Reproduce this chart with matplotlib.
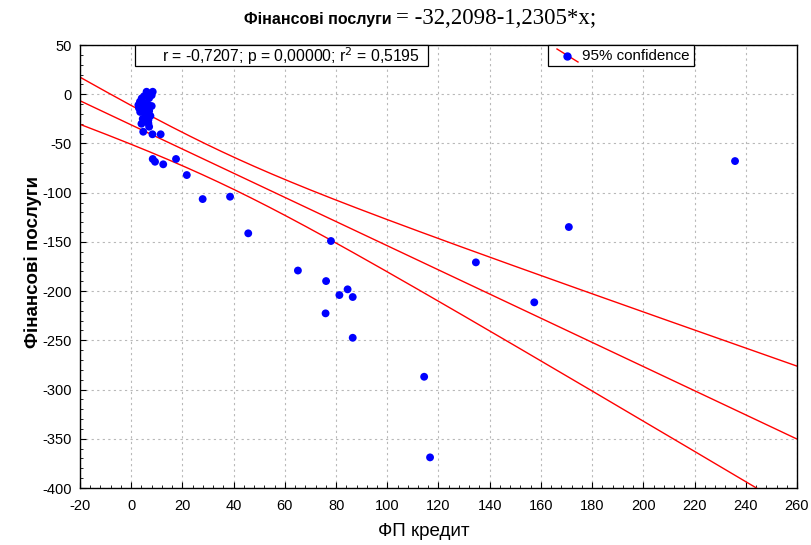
import numpy as np
import matplotlib
matplotlib.use("Agg")
import matplotlib.pyplot as plt
from matplotlib.ticker import MultipleLocator
from matplotlib.patches import Rectangle
from matplotlib.lines import Line2D

# Data (the dense cluster near the origin holds overlapping points)
fp_credit = [6.0, 8.4, 8.0, 5.0, 4.1, 7.0, 3.4, 5.4, 6.7, 2.8, 4.0, 6.0, 8.0, 3.0, 5.0, 7.0,
             6.0, 6.7, 6.7, 4.7, 8.3, 11.5,
             3.5, 4.5, 5.5, 6.5, 7.5, 4.0, 5.0, 6.0, 7.0, 5.5, 6.5, 4.5,
             8.4, 9.3, 12.5, 17.5, 21.7, 27.9, 38.6, 45.7,
             65.1, 78.0, 76.1, 81.3, 84.5, 86.5, 75.9, 86.5,
             114.4, 116.7, 134.6, 157.4, 170.9, 235.8]
fin_services = [2.5, 2.5, -1.0, -2.0, -4.2, -4.0, -7.6, -9.2, -10.9, -11.0, -12.0, -13.0, -12.0,
                -14.0, -15.0, -17.0, -22.9, -26.2, -29.6, -38.1, -40.7, -40.7,
                -18.0, -25.0, -20.0, -28.0, -22.0, -30.0, -16.0, -19.0, -33.0, -24.0, -14.0, -15.0,
                -65.8, -68.6, -71.2, -65.8, -82.1, -106.5, -104.1, -141.3,
                -179.1, -149.1, -189.8, -204.0, -198.2, -206.0, -222.6, -247.4,
                -287.0, -368.9, -170.8, -211.4, -134.9, -67.9]

title_bold = "Фінансові послуги"
title_eq = "= -32,2098-1,2305*x;"
stats_text = "r = -0,7207; p = 0,00000; r$^2$ = 0,5195"
legend_label = "95% confidence"
x_label = "ФП кредит"
y_label = "Фінансові послуги"

x = np.array(fp_credit)
y = np.array(fin_services)
n = len(x)
b1, b0 = np.polyfit(x, y, 1)
resid = y - (b0 + b1 * x)
s = np.sqrt(np.sum(resid ** 2) / (n - 2))
xbar = x.mean()
sxx = np.sum((x - xbar) ** 2)
tval = 2.005  # t(0.975, n-2)

xg = np.linspace(-20, 260, 400)
yg = b0 + b1 * xg
hw = tval * s * np.sqrt(1.0 / n + (xg - xbar) ** 2 / sxx)

plt.rcParams['font.family'] = ['Liberation Sans', 'DejaVu Sans']
plt.rcParams['axes.unicode_minus'] = False
W, H = 812, 545
fig = plt.figure(figsize=(W / 100, H / 100), dpi=100)
ax = fig.add_axes([80 / W, 1 - 488 / H, 717 / W, 443 / H])

def fx(px):
    return px / W

def fy(py):
    return 1 - py / H

ax.grid(True, which='major', linestyle=(0, (2, 3)), color='#b8b8b8', linewidth=0.8)
ax.set_axisbelow(True)

ax.plot(xg, yg, color='red', lw=1.0)
ax.plot(xg, yg + hw, color='red', lw=1.0)
ax.plot(xg, yg - hw, color='red', lw=1.0)
ax.scatter(x, y, s=32, color='#0000ff', zorder=3, edgecolors='none')

ax.set_xlim(-20, 260)
ax.set_ylim(-400, 50)
ax.xaxis.set_major_locator(MultipleLocator(20))
ax.xaxis.set_minor_locator(MultipleLocator(4))
ax.yaxis.set_major_locator(MultipleLocator(50))
ax.yaxis.set_minor_locator(MultipleLocator(10))
ax.tick_params(which='both', direction='in', labelsize=10.5, top=False, right=False)
ax.tick_params(axis='x', pad=8)
ax.tick_params(axis='y', pad=6)
ax.tick_params(which='major', length=4)
ax.tick_params(which='minor', length=2.5)
for sp in ax.spines.values():
    sp.set_linewidth(1.0)

ax.set_xlabel(x_label, fontsize=13.5)
ax.xaxis.set_label_coords((424 - 80) / 717, (488 - 523) / 443)
ax.set_ylabel(y_label, fontsize=13.5, fontweight='bold')
ax.yaxis.set_label_coords((42 - 80) / 717, (488 - 262) / 443)

fig.text(fx(392), fy(24), title_bold, ha='right', va='baseline', fontsize=11.5,
         fontweight='bold')
fig.text(fx(396), fy(24), title_eq, ha='left', va='baseline', fontsize=16.5,
         family=['Liberation Serif', 'DejaVu Serif'])

# statistics box
fig.add_artist(Rectangle((fx(135), fy(66)), fx(428) - fx(135), fy(45) - fy(66),
                         transform=fig.transFigure, facecolor='white', edgecolor='black',
                         lw=0.9, zorder=5))
fig.text(fx(162), fy(56), stats_text, ha='left', va='center', fontsize=11.3, zorder=6)

# legend box
fig.add_artist(Rectangle((fx(548), fy(66)), fx(694) - fx(548), fy(45) - fy(66),
                         transform=fig.transFigure, facecolor='white', edgecolor='black',
                         lw=0.9, zorder=5))
fig.add_artist(Line2D([fx(557), fx(578)], [fy(49), fy(62)], transform=fig.transFigure,
                      color='red', lw=1.0, zorder=6))
fig.add_artist(Line2D([fx(567.5)], [fy(55.5)], transform=fig.transFigure, marker='o',
                      markersize=5, color='#0000ff', markeredgecolor='#0000ff', zorder=7))
fig.text(fx(582), fy(56), legend_label, ha='left', va='center', fontsize=10.9, zorder=6)

fig.savefig("out.png", dpi=100)
